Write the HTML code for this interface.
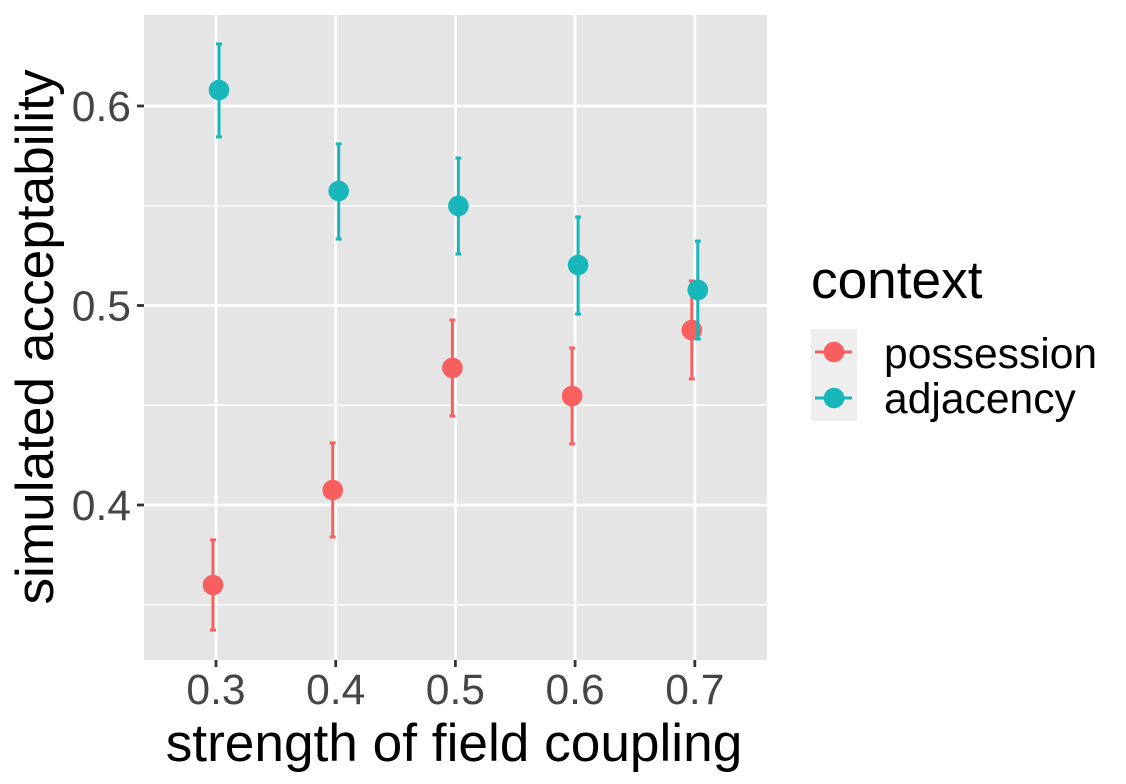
<!DOCTYPE html>
<html>
<head>
<meta charset="utf-8">
<style>
html,body{margin:0;padding:0;background:#fff;}
svg{display:block;font-family:"Liberation Sans",Arial,sans-serif;}
</style>
</head>
<body>
<svg id="chart" width="1126" height="784" viewBox="0 0 1126 784" xmlns="http://www.w3.org/2000/svg">
  <rect x="144" y="15" width="623" height="645" fill="#e5e5e5"/>
  <g id="grid"></g>
  <g id="marks"></g>
  <g id="axes"></g>
  <text x="454" y="761" font-size="53.2" text-anchor="middle" fill="#000">strength of field coupling</text>
  <text transform="translate(53,337) rotate(-90)" font-size="53.2" text-anchor="middle" fill="#000">simulated acceptability</text>
  <g>
    <text x="811" y="298" font-size="53.2" fill="#000">context</text>
    <rect x="811" y="329" width="46" height="46" fill="#eeeeee"/>
    <rect x="811" y="375" width="46" height="46" fill="#eeeeee"/>
    <line x1="815" x2="852" y1="352" y2="352" stroke="#F8605F" stroke-width="3"/>
    <circle cx="834" cy="352" r="10.3" fill="#F8605F"/>
    <line x1="815" x2="852" y1="398" y2="398" stroke="#17B6BA" stroke-width="3"/>
    <circle cx="834" cy="398" r="10.3" fill="#17B6BA"/>
    <text x="884" y="368" font-size="42.6" fill="#000">possession</text>
    <text x="884" y="413" font-size="42.6" fill="#000">adjacency</text>
  </g>
</svg>
<script>
const categories = [0.3, 0.4, 0.5, 0.6, 0.7];
const possessionMean = [0.3599, 0.4075, 0.4687, 0.4546, 0.4877];
const possessionLow = [0.3373, 0.3840, 0.4446, 0.4306, 0.4632];
const possessionHigh = [0.3825, 0.4311, 0.4927, 0.4787, 0.5123];
const adjacencyMean = [0.6080, 0.5574, 0.5499, 0.5203, 0.5078];
const adjacencyLow = [0.5845, 0.5333, 0.5258, 0.4957, 0.4832];
const adjacencyHigh = [0.6311, 0.5810, 0.5739, 0.5444, 0.5323];
const xTickLabels = ["0.3", "0.4", "0.5", "0.6", "0.7"];
const yTickLabels = ["0.4", "0.5", "0.6"];
const yMinorTicks = [0.35, 0.45, 0.55];

const NS = "http://www.w3.org/2000/svg";
const PANEL = {left: 144, right: 767, top: 15, bottom: 660};
const DODGE = 0.0025;
function xScale(v) { return 216 + (v - 0.3) * 1197; }
function yScale(v) { return 505 - (v - 0.4) * 1995; }
function make(tag, attrs, parent) {
  const el = document.createElementNS(NS, tag);
  for (const k in attrs) el.setAttribute(k, attrs[k]);
  parent.appendChild(el);
  return el;
}
const grid = document.getElementById("grid");
const marks = document.getElementById("marks");
const axes = document.getElementById("axes");

yMinorTicks.forEach(function (t) {
  const el = make("line", {x1: PANEL.left, x2: PANEL.right, y1: yScale(t), y2: yScale(t), stroke: "#fff", "stroke-width": 1.4}, grid);
  
  
});
yTickLabels.forEach(function (t) {
  const y = yScale(parseFloat(t));
  const g = make("line", {x1: PANEL.left, x2: PANEL.right, y1: y, y2: y, stroke: "#fff", "stroke-width": 2.8}, grid);
  
  
  const tick = make("line", {x1: 137, x2: PANEL.left, y1: y, y2: y, stroke: "#333", "stroke-width": 2.8}, axes);
  
  
  const label = make("text", {x: 131, y: y + 15, "font-size": 42.6, "text-anchor": "end", fill: "#454545"}, axes);
  label.textContent = t;
  
  
});
xTickLabels.forEach(function (t) {
  const x = xScale(parseFloat(t));
  const g = make("line", {x1: x, x2: x, y1: PANEL.top, y2: PANEL.bottom, stroke: "#fff", "stroke-width": 2.8}, grid);
  
  
  const tick = make("line", {x1: x, x2: x, y1: PANEL.bottom, y2: PANEL.bottom + 7, stroke: "#333", "stroke-width": 2.8}, axes);
  
  
  const label = make("text", {x: x, y: 704, "font-size": 42.6, "text-anchor": "middle", fill: "#454545"}, axes);
  label.textContent = t;
  
  
});

function drawSeries(name, color, offset, mean, low, high) {
  categories.forEach(function (c, i) {
    const x = xScale(c + offset);
    const stem = make("line", {x1: x, x2: x, y1: yScale(low[i]), y2: yScale(high[i]), stroke: color, "stroke-width": 3}, marks);
    
    
    [low[i], high[i]].forEach(function (v) {
      const cap = make("line", {x1: x - 3, x2: x + 3, y1: yScale(v), y2: yScale(v), stroke: color, "stroke-width": 3}, marks);
      
      
    });
    const pt = make("circle", {cx: x, cy: yScale(mean[i]), r: 10.3, fill: color}, marks);
    
    
  });
}
drawSeries("possession", "#F8605F", -DODGE, possessionMean, possessionLow, possessionHigh);
drawSeries("adjacency", "#17B6BA", DODGE, adjacencyMean, adjacencyLow, adjacencyHigh);
</script>
</body>
</html>
